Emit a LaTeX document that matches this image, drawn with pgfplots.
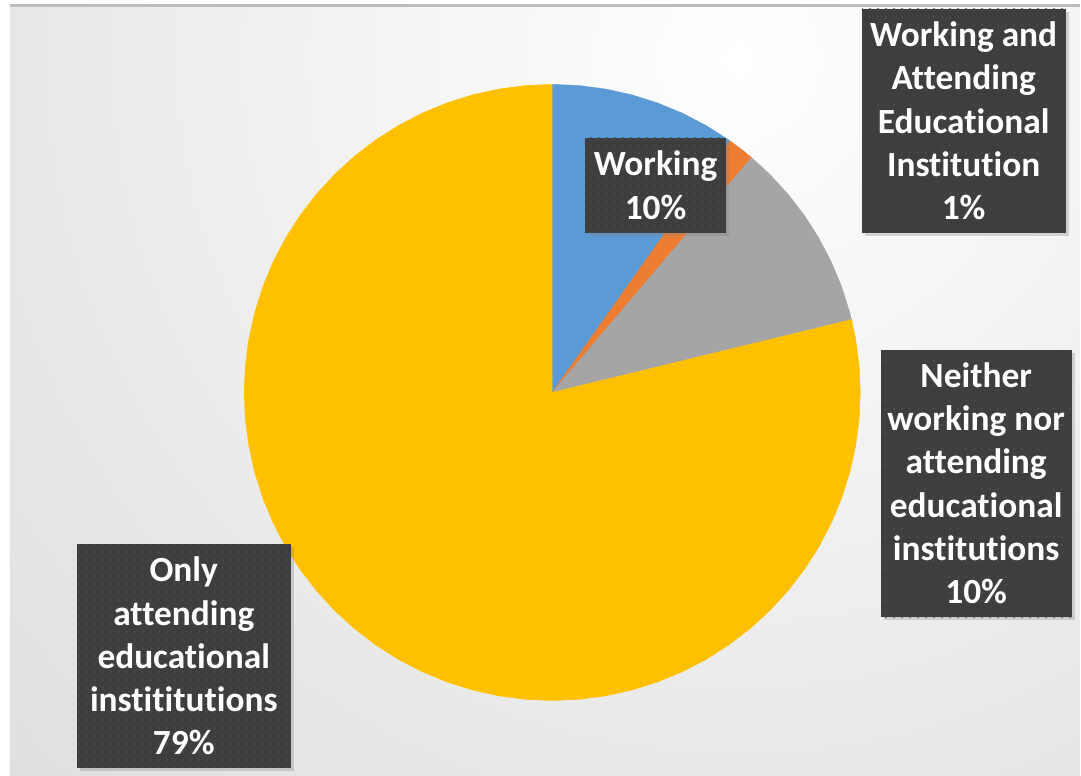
\documentclass[border=0pt]{standalone}
\usepackage{fontspec}
\setmainfont[Ligatures={NoCommon,NoRequired,NoContextual}]{Carlito}
\usepackage{pgfplots}
\pgfplotsset{compat=1.18}
\usetikzlibrary{shadows,patterns.meta}
\definecolor{cBlue}{HTML}{5B9BD5}
\definecolor{cOrange}{HTML}{ED7D31}
\definecolor{cGray}{HTML}{A5A5A5}
\definecolor{cYellow}{HTML}{FFC000}
\definecolor{bgOuter}{HTML}{C7C7C7}
\definecolor{boxFill}{HTML}{3E3E3E}
\definecolor{boxDot}{HTML}{4C4C4C}
\tikzset{lbl/.style={fill=boxFill, text=white, inner sep=0pt, align=center,
  font=\fontsize{17.7}{21.65}\selectfont\bfseries,
  drop shadow={shadow xshift=1.5pt, shadow yshift=-1.5pt, opacity=0.3},
  postaction={pattern={Dots[distance=4pt, radius=0.6pt]}, pattern color=boxDot}}}
\begin{document}
\begin{tikzpicture}
\begin{axis}[scale only axis, width=540.5pt, height=388.5pt,
  xmin=-553, xmax=528, ymin=-384, ymax=393, hide axis, clip=false]
% frame and background
\path (axis cs:-553,-384) rectangle (axis cs:528,393);
\fill[bgOuter] (axis cs:-543,-384) rectangle (axis cs:528,388);
\begin{scope}
\clip (axis cs:-543,-384) rectangle (axis cs:528,388);
\shade[inner color=white, outer color=bgOuter] (axis cs:187,333) circle[radius=900pt];
\end{scope}
\draw[color=bgOuter!95!black, line width=1.5pt] (axis cs:-543,387.5) -- (axis cs:528,387.5);
% Working 9.8 %
\addplot[data cs=polar, fill=cBlue, draw=cBlue, line width=0.2pt] coordinates {
(0,0) (90,308.5) (85,308.5) (80,308.5) (75,308.5) (70,308.5) (65,308.5) (60,308.5) (55,308.5) (54.72,308.5)} -- cycle;
% Working and attending 1.4 %
\addplot[data cs=polar, fill=cOrange, draw=cOrange, line width=0.2pt] coordinates {
(0,0) (54.72,308.5) (52,308.5) (49.68,308.5)} -- cycle;
% Neither 10.0 %
\addplot[data cs=polar, fill=cGray, draw=cGray, line width=0.2pt] coordinates {
(0,0) (49.68,308.5) (45,308.5) (40,308.5) (35,308.5) (30,308.5) (25,308.5) (20,308.5) (15,308.5) (13.68,308.5)} -- cycle;
% Only attending 78.8 %
\addplot[data cs=polar, fill=cYellow, draw=cYellow, line width=0.2pt] coordinates {
(0,0) (13.68,308.5) (10,308.5) (5,308.5) (0,308.5) (-5,308.5) (-10,308.5) (-15,308.5) (-20,308.5) (-25,308.5) (-30,308.5) (-35,308.5) (-40,308.5) (-45,308.5) (-50,308.5) (-55,308.5) (-60,308.5) (-65,308.5) (-70,308.5) (-75,308.5) (-80,308.5) (-85,308.5) (-90,308.5) (-95,308.5) (-100,308.5) (-105,308.5) (-110,308.5) (-115,308.5) (-120,308.5) (-125,308.5) (-130,308.5) (-135,308.5) (-140,308.5) (-145,308.5) (-150,308.5) (-155,308.5) (-160,308.5) (-165,308.5) (-170,308.5) (-175,308.5) (-180,308.5) (-185,308.5) (-190,308.5) (-195,308.5) (-200,308.5) (-205,308.5) (-210,308.5) (-215,308.5) (-220,308.5) (-225,308.5) (-230,308.5) (-235,308.5) (-240,308.5) (-245,308.5) (-250,308.5) (-255,308.5) (-260,308.5) (-265,308.5) (-270,308.5)} -- cycle;
% labels
\node[lbl, minimum width=70.5pt, minimum height=47.5pt] at (axis cs:103.5,207.5) {Working\\10\%};
\node[lbl, minimum width=102pt, minimum height=112pt] at (axis cs:412,272) {Working and\\Attending\\Educational\\Institution\\1\%};
\node[lbl, minimum width=95.5pt, minimum height=134pt] at (axis cs:424.5,-91) {Neither\\working nor\\attending\\educational\\institutions\\10\%};
\node[lbl, minimum width=107pt, minimum height=112pt] at (axis cs:-369,-264) {Only\\attending\\educational\\instititutions\\79\%};
\end{axis}
\end{tikzpicture}
\end{document}
